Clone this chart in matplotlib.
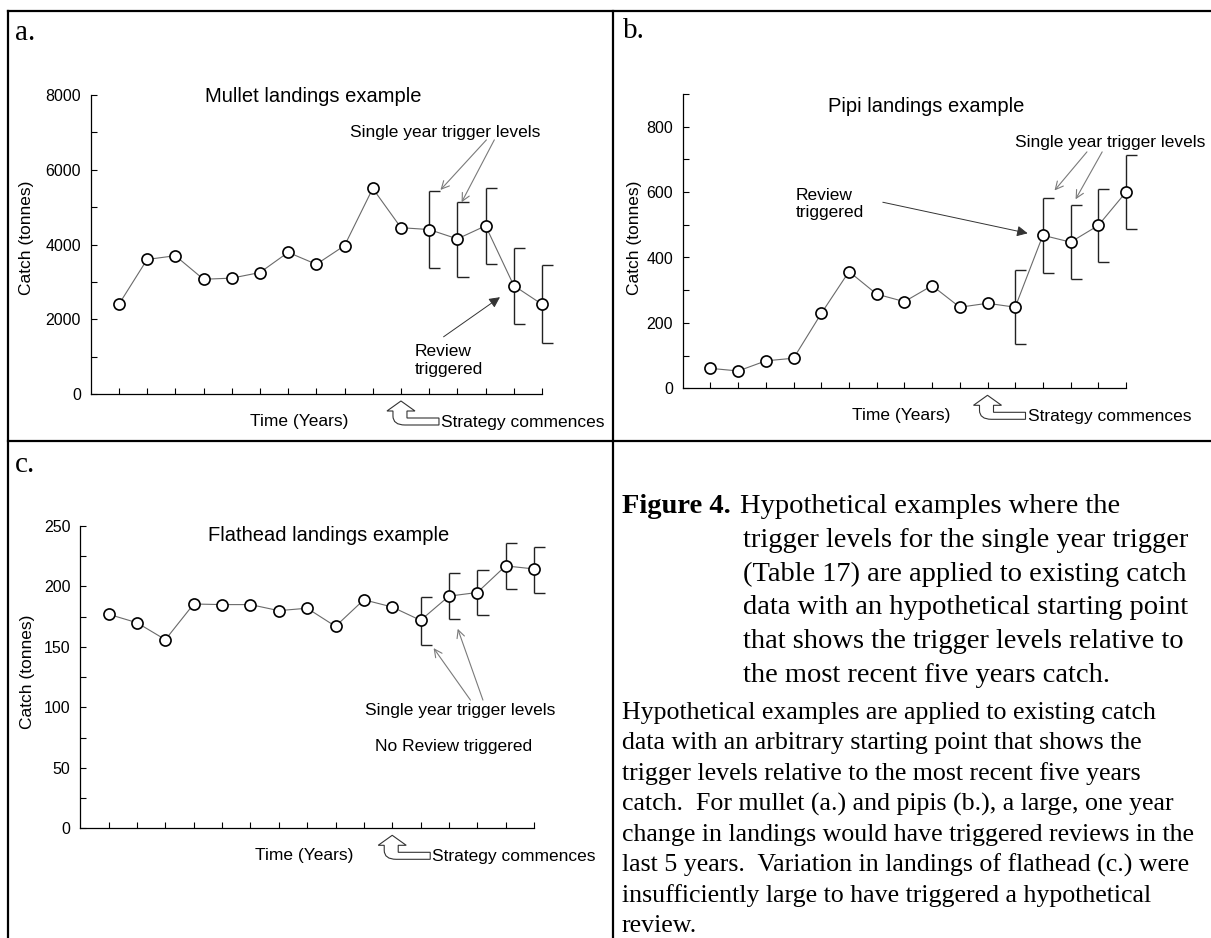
import numpy as np
import matplotlib
matplotlib.use("Agg")
import matplotlib.pyplot as plt
from matplotlib.lines import Line2D
from matplotlib.path import Path
from matplotlib.patches import PathPatch
from matplotlib.ticker import MultipleLocator, NullFormatter
from matplotlib.transforms import Affine2D, ScaledTranslation

plt.rcParams['font.family'] = ['Liberation Sans', 'DejaVu Sans']

# catch series, one value per year
years = np.arange(1, 17)
trigger_years = np.arange(12, 17)

mullet = [2400, 3600, 3700, 3070, 3100, 3250, 3790, 3470, 3970, 5500, 4450, 4400, 4150, 4500, 2900, 2400]
mullet_upper = [5440, 5150, 5500, 3910, 3440]
mullet_lower = [3370, 3130, 3470, 1880, 1370]

pipi = [61, 53, 84, 92, 229, 357, 288, 265, 314, 248, 260, 248, 468, 447, 498, 600]
pipi_upper = [362, 581, 560, 610, 714]
pipi_lower = [136, 354, 335, 385, 488]

flathead = [177, 170, 156, 185.5, 185, 185, 180, 182, 167, 189, 183, 172, 192, 195, 217, 214.5]
flathead_upper = [191, 211, 214, 236, 233]
flathead_lower = [152, 173, 176, 198, 195]

strategy_year = 11

caption_lines = [
    "trigger levels for the single year trigger",
    "(Table 17) are applied to existing catch",
    "data with an hypothetical starting point",
    "that shows the trigger levels relative to",
    "the most recent five years catch.",
]
body_lines = [
    "Hypothetical examples are applied to existing catch",
    "data with an arbitrary starting point that shows the",
    "trigger levels relative to the most recent five years",
    "catch.  For mullet (a.) and pipis (b.), a large, one year",
    "change in landings would have triggered reviews in the",
    "last 5 years.  Variation in landings of flathead (c.) were",
    "insufficiently large to have triggered a hypothetical",
    "review.",
]

W, H = 1211, 938
fig = plt.figure(figsize=(W / 100, H / 100), dpi=100)


def px(x, y):
    # pixel position (from top-left) -> figure fraction
    return x / W, 1 - y / H


def make_axes(left, right, top, bottom):
    x0, y0 = px(left, bottom)
    x1, y1 = px(right, top)
    return fig.add_axes([x0, y0, x1 - x0, y1 - y0])


def strategy_arrow(ax, x):
    # outlined bent arrow pointing up at the first strategy year
    trans = Affine2D().scale(1, -1) + ScaledTranslation(x, 0, ax.transData)
    verts = [(0, 7), (14, 17), (6, 17), (6, 24), (38, 24), (38, 31),
             (4, 31), (-8, 31), (-8, 22), (-8, 17), (-14, 17), (0, 7)]
    codes = [Path.MOVETO, Path.LINETO, Path.LINETO, Path.LINETO, Path.LINETO, Path.LINETO,
             Path.LINETO, Path.CURVE3, Path.CURVE3, Path.LINETO, Path.LINETO, Path.CLOSEPOLY]
    ax.add_artist(PathPatch(Path(verts, codes), facecolor='white', edgecolor='#333333',
                            lw=0.8, transform=trans, clip_on=False))
    ax.annotate('Strategy commences', xy=(x, 0), xytext=(40, -28), textcoords='offset pixels',
                ha='left', va='center', fontsize=12.5)


def catch_panel(ax, values, upper, lower, ymax, major, minor, title, title_xy, label_off, time_x):
    ax.plot(years, values, color='#6a6a6a', lw=0.8, zorder=2, clip_on=False)
    ax.vlines(trigger_years, lower, upper, color='#222222', lw=1.0, zorder=2, clip_on=False)
    ax.hlines(upper, trigger_years, trigger_years + 0.4, color='#222222', lw=1.0, zorder=2,
              clip_on=False)
    ax.hlines(lower, trigger_years, trigger_years + 0.4, color='#222222', lw=1.0, zorder=2,
              clip_on=False)
    ax.plot(years, values, ls='none', marker='o', ms=8, mfc='white', mec='black', mew=1.2,
            zorder=3, clip_on=False)

    ax.set_xlim(0, 16)
    ax.set_ylim(0, ymax)
    for side in ('top', 'right'):
        ax.spines[side].set_visible(False)
    for side in ('left', 'bottom'):
        ax.spines[side].set_linewidth(0.9)
    ax.set_xticks(years)
    ax.xaxis.set_major_formatter(NullFormatter())
    ax.yaxis.set_major_locator(MultipleLocator(major))
    ax.yaxis.set_minor_locator(MultipleLocator(minor))
    ax.tick_params(direction='in', length=4, width=0.8, labelsize=11.5, pad=7)
    ax.tick_params(which='minor', direction='in', length=4, width=0.8)
    ax.patch.set_visible(False)

    ax.text(*title_xy, title, ha='center', va='center', fontsize=14.5)
    ax.annotate('Catch (tonnes)', xy=(0, 0.5), xycoords='axes fraction', xytext=label_off,
                textcoords='offset pixels', rotation=90, ha='center', va='center', fontsize=12.5)
    ax.annotate('Time (Years)', xy=(time_x, 0), xytext=(0, -27), textcoords='offset pixels',
                ha='center', va='center', fontsize=12.5)
    strategy_arrow(ax, strategy_year)


def pointer(ax, start, end, review=False):
    if review:
        props = dict(arrowstyle='-|>', color='#333333', lw=0.7, mutation_scale=16,
                     shrinkA=0, shrinkB=0)
    else:
        props = dict(arrowstyle='->', color='#7a7a7a', lw=0.8, mutation_scale=14,
                     shrinkA=0, shrinkB=0)
    ax.annotate('', xy=end, xytext=start, arrowprops=props, annotation_clip=False)


# a. mullet
ax_a = make_axes(90.7, 542, 95, 394)
catch_panel(ax_a, mullet, mullet_upper, mullet_lower, 8000, 2000, 1000,
            'Mullet landings example', (7.9, 7970), (-64, 7), 7.4)
ax_a.text(12.58, 7010, 'Single year trigger levels', ha='center', va='center', fontsize=12.5)
pointer(ax_a, (14.03, 6800), (12.4, 5460))
pointer(ax_a, (14.31, 6800), (13.15, 5130))
ax_a.text(11.49, 896, 'Review\ntriggered', ha='left', va='center', fontsize=12.5, linespacing=1.2)
pointer(ax_a, (12.51, 1530), (14.51, 2590), review=True)

# b. pipi
ax_b = make_axes(682.8, 1126, 94, 388.3)
catch_panel(ax_b, pipi, pipi_upper, pipi_lower, 900, 200, 100,
            'Pipi landings example', (8.78, 863), (-48, 3), 7.9)
ax_b.text(15.44, 751, 'Single year trigger levels', ha='center', va='center', fontsize=12.5)
pointer(ax_b, (14.59, 723), (13.42, 605))
pointer(ax_b, (15.14, 723), (14.18, 578))
ax_b.text(4.08, 563, 'Review\ntriggered', ha='left', va='center', fontsize=12.5, linespacing=1.2)
pointer(ax_b, (7.22, 569), (12.45, 474), review=True)

# c. flathead
ax_c = make_axes(80.3, 534, 526, 828.3)
catch_panel(ax_c, flathead, flathead_upper, flathead_lower, 250, 50, 25,
            'Flathead landings example', (8.74, 242.5), (-53, 5), 7.9)
ax_c.text(13.38, 97.8, 'Single year trigger levels', ha='center', va='center', fontsize=12.5)
ax_c.text(13.16, 67.5, 'No Review triggered', ha='center', va='center', fontsize=12.5)
pointer(ax_c, (13.76, 106), (12.46, 149))
pointer(ax_c, (14.2, 106), (13.31, 165))

# panel frame
frame = dict(color='black', lw=1.6, transform=fig.transFigure)
for (xa, ya), (xb, yb) in [((8, 11), (W, 11)), ((8, 11), (8, H)),
                           ((613, 11), (613, H)), ((8, 441), (W, 441))]:
    p0, p1 = px(xa, ya), px(xb, yb)
    fig.add_artist(Line2D([p0[0], p1[0]], [p0[1], p1[1]], **frame))

serif = ['Liberation Serif', 'DejaVu Serif']
for label, (lx, ly) in [('a.', (15, 33)), ('b.', (623, 31)), ('c.', (15, 465))]:
    fig.text(*px(lx, ly), label, family=serif, fontsize=21, ha='left', va='center')

# caption
fig.text(*px(622, 506.7), 'Figure 4.', family=serif, fontsize=20.5, fontweight='bold',
         ha='left', va='center')
fig.text(*px(740, 506.7), 'Hypothetical examples where the', family=serif, fontsize=20.5,
         ha='left', va='center')
for i, line in enumerate(caption_lines):
    fig.text(*px(743, 506.7 + 33.7 * (i + 1)), line, family=serif, fontsize=20.5,
             ha='left', va='center')
for i, line in enumerate(body_lines):
    fig.text(*px(621.7, 713 + 30.4 * i), line, family=serif, fontsize=18.6,
             ha='left', va='center')

fig.savefig('out.png', dpi=100, facecolor='white')
